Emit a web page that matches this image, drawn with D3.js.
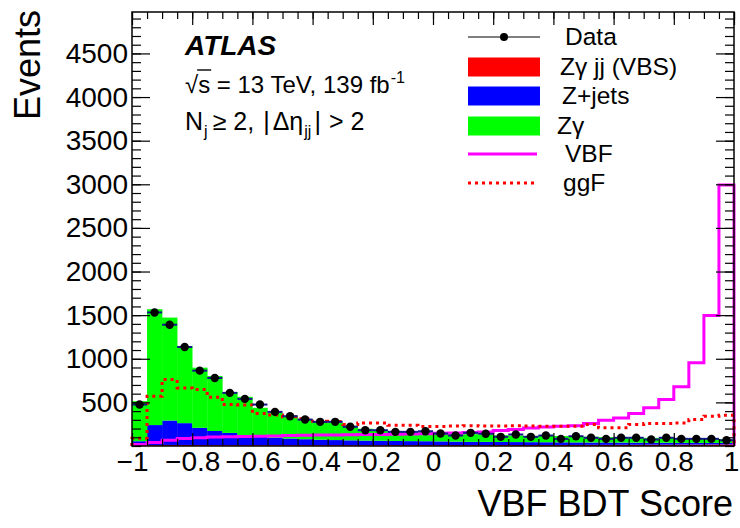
<!DOCTYPE html>
<html>
<head>
<meta charset="utf-8">
<script src="https://cdn.jsdelivr.net/npm/d3@7"></script>
<style>
  body { margin: 0; background: #fff; }
  svg { display: block; font-family: "Liberation Sans", Arial, Helvetica, sans-serif; }
</style>
</head>
<body>
<div id="chart"></div>
<script>
// binning of the BDT score: 40 bins of 0.05 between -1 and 1
const binLo = -1, binHi = 1, nBins = 40;

// observed events per bin
const dataCounts = [475, 1531, 1390, 1135, 864, 780, 609, 540, 475, 391,
  341, 303, 277, 277, 220, 181, 181, 162, 162, 169,
  143, 120, 151, 140, 105, 132, 105, 120, 82, 112,
  94, 82, 94, 94, 74, 94, 82, 82, 82, 66];

// stacked backgrounds (bottom to top)
const vbsZgjj = [8, 10, 12, 12, 11, 10, 10, 9, 9, 9,
  9, 9, 9, 9, 9, 9, 9, 9, 9, 10,
  10, 10, 10, 10, 11, 11, 11, 12, 12, 12,
  13, 13, 14, 14, 15, 15, 16, 16, 17, 18];
const zJets = [47, 230, 280, 250, 197, 162, 140, 116, 101, 86,
  77, 69, 63, 59, 56, 53, 51, 49, 47, 45,
  43, 40, 38, 37, 35, 34, 33, 31, 30, 29,
  27, 27, 25, 24, 22, 22, 20, 20, 18, 17];
const zGamma = [459, 1328, 1180, 885, 690, 630, 468, 439, 328, 288,
  262, 228, 212, 200, 168, 136, 126, 115, 110, 105,
  95, 90, 88, 83, 77, 75, 72, 75, 72, 69,
  66, 62, 60, 58, 56, 53, 52, 50, 48, 43];

// signal overlays (not stacked)
const vbfSignal = [17, 40, 65, 85, 96, 102, 106, 110, 113, 116,
  119, 122, 125, 127, 129, 131, 133, 135, 138, 141,
  146, 150, 155, 160, 178, 190, 205, 218, 226, 233,
  257, 295, 322, 372, 439, 534, 678, 955, 1497, 2993];
const ggfSignal = [90, 570, 761, 666, 647, 560, 475, 470, 372, 355,
  334, 311, 284, 280, 246, 265, 265, 238, 238, 223,
  223, 228, 232, 228, 228, 232, 228, 227, 227, 227,
  246, 208, 208, 246, 257, 257, 265, 303, 341, 352];

const xTicks = [-1, -0.8, -0.6, -0.4, -0.2, 0, 0.2, 0.4, 0.6, 0.8, 1];
const yTicks = [500, 1000, 1500, 2000, 2500, 3000, 3500, 4000, 4500];
const yMax = 4975;

const width = 740, height = 528;
const mLeft = 132, mRight = 734, mTop = 12, mBottom = 446;
const font = '"Liberation Sans", Arial, Helvetica, sans-serif';

const svg = d3.select('#chart').append('svg')
  .attr('width', width)
  .attr('height', height);

const x = d3.scaleLinear().domain([binLo, binHi]).range([mLeft, mRight]);
const y = d3.scaleLinear().domain([0, yMax]).range([mBottom, mTop]);

const binW = (binHi - binLo) / nBins;
const bins = d3.range(nBins).map(i => ({ i, x0: binLo + i * binW, x1: binLo + (i + 1) * binW }));

// Stacked histogram
const stackRows = bins.map(b => ({ vbs: vbsZgjj[b.i], zj: zJets[b.i], zg: zGamma[b.i] }));
const stacked = d3.stack().keys(['vbs', 'zj', 'zg'])(stackRows);
const fills = { vbs: '#ff0000', zj: '#0000ff', zg: '#00ff00' };

const plot = svg.append('g');

stacked.forEach(layer => {
  plot.append('g')
    .selectAll('rect')
    .data(layer)
    .join('rect')
    .attr('x', (d, i) => x(bins[i].x0))
    .attr('width', (d, i) => x(bins[i].x1) - x(bins[i].x0) + 0.3)
    .attr('y', d => y(d[1]))
    .attr('height', d => y(d[0]) - y(d[1]))
    .attr('fill', fills[layer.key]);
});

// step outline for a histogram drawn as a line
function stepPoints(vals) {
  const pts = [[binLo, 0]];
  bins.forEach(b => {
    pts.push([b.x0, vals[b.i]]);
    pts.push([b.x1, vals[b.i]]);
  });
  pts.push([binHi, 0]);
  return pts;
}
const stepLine = d3.line().x(d => x(d[0])).y(d => y(d[1]));

plot.append('path')
  .attr('d', stepLine(stepPoints(vbfSignal)))
  .attr('fill', 'none')
  .attr('stroke', '#ff00ff')
  .attr('stroke-width', 3);

plot.append('path')
  .attr('d', stepLine(stepPoints(ggfSignal)))
  .attr('fill', 'none')
  .attr('stroke', '#ff0000')
  .attr('stroke-width', 3)
  .attr('stroke-dasharray', '3,4');

// Data points with error bars
const pts = plot.append('g');
pts.selectAll('line.xerr')
  .data(bins)
  .join('line')
  .attr('class', 'xerr')
  .attr('x1', b => x(b.x0)).attr('x2', b => x(b.x1))
  .attr('y1', b => y(dataCounts[b.i])).attr('y2', b => y(dataCounts[b.i]))
  .attr('stroke', '#14148c')
  .attr('stroke-width', 2);
pts.selectAll('line.yerr')
  .data(bins)
  .join('line')
  .attr('class', 'yerr')
  .attr('x1', b => x((b.x0 + b.x1) / 2)).attr('x2', b => x((b.x0 + b.x1) / 2))
  .attr('y1', b => y(dataCounts[b.i] + Math.sqrt(dataCounts[b.i])))
  .attr('y2', b => y(dataCounts[b.i] - Math.sqrt(dataCounts[b.i])))
  .attr('stroke', '#000')
  .attr('stroke-width', 1.5);
pts.selectAll('circle')
  .data(bins)
  .join('circle')
  .attr('cx', b => x((b.x0 + b.x1) / 2))
  .attr('cy', b => y(dataCounts[b.i]))
  .attr('r', 4.2)
  .attr('fill', '#000');

// Axes: ticks point inwards, ROOT style
const xMinor = d3.range(-1, 1.0001, 0.05);
const yMinor = d3.range(0, yMax, 100);

function addAxis(axis, transform, showLabels) {
  const g = svg.append('g').attr('transform', transform).call(axis);
  g.select('.domain').remove();
  g.selectAll('line').attr('stroke', '#000').attr('stroke-width', 1.2);
  if (!showLabels) g.selectAll('text').remove();
  else g.selectAll('text').style('font-size', '28px').style('font-family', font).attr('fill', '#000');
  return g;
}

const fmtX = d => d === 0 ? '0' : (d < 0 ? '\u2212' : '') + Math.abs(d);

addAxis(d3.axisBottom(x).tickValues(xMinor).tickSize(-7).tickFormat(''), `translate(0,${mBottom})`, false);
const xAxisG = addAxis(d3.axisBottom(x).tickValues(xTicks).tickSize(-13).tickPadding(5).tickFormat(fmtX), `translate(0,${mBottom})`, true);
// keep the last label inside the window
xAxisG.selectAll('text').filter(d => d === 1).attr('dx', -3);
addAxis(d3.axisTop(x).tickValues(xMinor).tickSize(-7).tickFormat(''), `translate(0,${mTop})`, false);
addAxis(d3.axisTop(x).tickValues(xTicks).tickSize(-13).tickFormat(''), `translate(0,${mTop})`, false);

addAxis(d3.axisLeft(y).tickValues(yMinor).tickSize(-9).tickFormat(''), `translate(${mLeft},0)`, false);
addAxis(d3.axisLeft(y).tickValues(yTicks).tickSize(-18).tickPadding(4).tickFormat(d3.format('d')), `translate(${mLeft},0)`, true);
addAxis(d3.axisRight(y).tickValues(yMinor).tickSize(-9).tickFormat(''), `translate(${mRight},0)`, false);
addAxis(d3.axisRight(y).tickValues(yTicks).tickSize(-18).tickFormat(''), `translate(${mRight},0)`, false);

// Frame
svg.append('rect')
  .attr('x', mLeft).attr('y', mTop)
  .attr('width', mRight - mLeft).attr('height', mBottom - mTop)
  .attr('fill', 'none')
  .attr('stroke', '#000')
  .attr('stroke-width', 1.5);

// Axis titles
svg.append('text')
  .attr('x', 733).attr('y', 516)
  .attr('text-anchor', 'end')
  .style('font-size', '36px')
  .text('VBF BDT Score');

svg.append('text')
  .attr('transform', 'translate(40,10) rotate(-90)')
  .attr('text-anchor', 'end')
  .style('font-size', '36px')
  .text('Events');

// ATLAS labels
svg.append('text')
  .attr('x', 185).attr('y', 55)
  .style('font-size', '28px')
  .style('font-weight', 'bold')
  .style('font-style', 'italic')
  .text('ATLAS');

const l2 = svg.append('text').attr('x', 185).attr('y', 93).style('font-size', '24px');
l2.append('tspan').text('\u221As = 13 TeV, 139 fb');
l2.append('tspan').attr('dy', -10).attr('dx', 1).style('font-size', '16px').text('-1');
// overline of the square root
const l2n = l2.node();
const sqrtW = l2n.getSubStringLength(0, 1);
const sW = l2n.getSubStringLength(1, 1);
svg.append('line')
  .attr('x1', 185 + sqrtW - 1).attr('x2', 185 + sqrtW + sW + 1)
  .attr('y1', 70).attr('y2', 70)
  .attr('stroke', '#000').attr('stroke-width', 1.4);

const l3 = svg.append('text').attr('x', 185).attr('y', 130).style('font-size', '25px');
l3.append('tspan').text('N');
l3.append('tspan').attr('dy', 7).attr('dx', 1).style('font-size', '16px').text('j');
l3.append('tspan').attr('dy', -7).attr('dx', 5).text('\u2265 2,');
l3.append('tspan').attr('dx', 9).text('|');
l3.append('tspan').attr('dx', 3).text('\u0394\u03B7');
l3.append('tspan').attr('dy', 7).attr('dx', 1).style('font-size', '16px').text('jj');
l3.append('tspan').attr('dy', -7).attr('dx', 3).text('|');
l3.append('tspan').attr('dx', 8).text('> 2');

// Legend
const legendLabels = ['Data', 'Z\u03B3 jj (VBS)', 'Z+jets', 'Z\u03B3', 'VBF', 'ggF'];
const legendKinds = ['data', 'box', 'box', 'box', 'line', 'dash'];
const legendColors = ['#000', '#ff0000', '#0000ff', '#00ff00', '#ff00ff', '#ff0000'];
const legendY = [37, 67, 96, 126, 154, 183];
const legendTextX = [565, 560, 562, 557, 565, 563];
const lx0 = 468, lx1 = 540;

const legend = svg.append('g');
legendLabels.forEach((lab, i) => {
  const cy = legendY[i];
  const g = legend.append('g');
  if (legendKinds[i] === 'data') {
    g.append('line').attr('x1', lx0).attr('x2', lx1).attr('y1', cy).attr('y2', cy)
      .attr('stroke', '#000').attr('stroke-width', 1.2);
    g.append('circle').attr('cx', (lx0 + lx1) / 2).attr('cy', cy).attr('r', 4).attr('fill', '#000');
  } else if (legendKinds[i] === 'box') {
    g.append('rect').attr('x', lx0).attr('y', cy - 9.5).attr('width', lx1 - lx0).attr('height', 19)
      .attr('fill', legendColors[i]);
  } else {
    g.append('line').attr('x1', lx0).attr('x2', lx1 - 3).attr('y1', cy).attr('y2', cy)
      .attr('stroke', legendColors[i]).attr('stroke-width', 3)
      .attr('stroke-dasharray', legendKinds[i] === 'dash' ? '3,4' : null);
  }
  g.append('text')
    .attr('x', legendTextX[i]).attr('y', cy + 8)
    .style('font-size', '24.5px')
    .text(lab);
});
</script>
</body>
</html>
